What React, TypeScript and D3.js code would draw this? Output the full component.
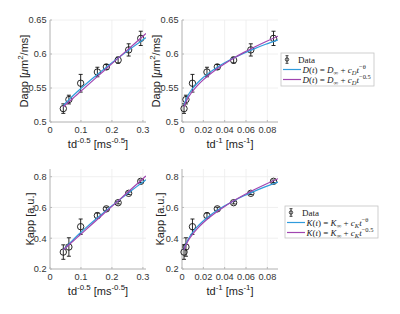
import React from "react";
import * as d3 from "d3";

// ---- data ----
const sInv = [0.043, 0.061, 0.099, 0.153, 0.182, 0.22, 0.254, 0.293]; // td^-0.5
const tdInv = [0.0019, 0.0037, 0.0098, 0.0234, 0.0331, 0.0484, 0.0645, 0.0858]; // td^-1
const dapp = [0.5197, 0.533, 0.557, 0.5735, 0.581, 0.591, 0.606, 0.623];
const dappErr = [0.007, 0.0064, 0.013, 0.007, 0.0035, 0.0045, 0.009, 0.0105];
const kapp = [0.31, 0.343, 0.475, 0.547, 0.591, 0.631, 0.692, 0.77];
const kappErr = [0.047, 0.06, 0.05, 0.017, 0.01, 0.008, 0.008, 0.008];

// fitted curves, sampled
const fitS = [0.043, 0.047, 0.052, 0.058, 0.065, 0.075, 0.087, 0.1, 0.12, 0.14, 0.16, 0.18, 0.2, 0.22, 0.24, 0.26, 0.28, 0.3, 0.31];
const fitTdInv = [0.00185, 0.00221, 0.0027, 0.00336, 0.00423, 0.00563, 0.00757, 0.01, 0.0144, 0.0196, 0.0256, 0.0324, 0.04, 0.0484, 0.0576, 0.0676, 0.0784, 0.09, 0.0961];
const dFitFree = [0.5245, 0.5264, 0.5287, 0.5315, 0.5346, 0.539, 0.5441, 0.5494, 0.5574, 0.5651, 0.5726, 0.5799, 0.587, 0.594, 0.6009, 0.6076, 0.6143, 0.6208, 0.6241];
const dFitHalf = [0.5224, 0.524, 0.526, 0.5284, 0.5313, 0.5353, 0.5401, 0.5454, 0.5535, 0.5616, 0.5696, 0.5777, 0.5858, 0.5939, 0.602, 0.61, 0.6181, 0.6262, 0.6302];
const kFitFree = [0.325, 0.3337, 0.3443, 0.3569, 0.3712, 0.3911, 0.4144, 0.4388, 0.4752, 0.5103, 0.5445, 0.5779, 0.6107, 0.6425, 0.674, 0.7048, 0.7353, 0.7652, 0.78];
const kFitHalf = [0.3244, 0.3316, 0.3406, 0.3514, 0.364, 0.382, 0.4036, 0.427, 0.463, 0.499, 0.535, 0.571, 0.607, 0.643, 0.679, 0.715, 0.751, 0.787, 0.805];

const xTicksS = [0, 0.1, 0.2, 0.3];
const xTicksT = [0, 0.02, 0.04, 0.06, 0.08];
const yTicksD = [0.5, 0.55, 0.6, 0.65];
const yTicksK = [0.2, 0.4, 0.6, 0.8];

const BLUE = "#2f9bdc";
const PURPLE = "#a045b0";
const SANS = "'Liberation Sans', Arial, Helvetica, sans-serif";
const SERIF = "'Liberation Serif', 'DejaVu Serif', serif";

type Part = { t: string; i?: boolean; sub?: boolean; sup?: boolean };

function MathText({ x, y, parts, size, family, anchor, transform, fill }: any) {
  let cur = 0;
  return (
    <text x={x} y={y} fontSize={size} fontFamily={family} textAnchor={anchor || "start"} transform={transform} fill={fill || "#222"}>
      {parts.map((p: Part, k: number) => {
        const target = p.sub ? size * 0.3 : p.sup ? -size * 0.42 : 0;
        const dy = target - cur;
        cur = target;
        return (
          <tspan key={k} dy={dy} fontStyle={p.i ? "italic" : "normal"} fontSize={p.sub || p.sup ? size * 0.72 : size}>
            {p.t}
          </tspan>
        );
      })}
    </text>
  );
}

type PanelProps = {
  id: string;
  left: number; right: number; top: number; bottom: number;
  xDomain: [number, number]; yDomain: [number, number];
  xTicks: number[]; yTicks: number[];
  xs: number[]; ys: number[]; errs: number[];
  fitX: number[]; fitA: number[]; fitB: number[];
  xLabel: Part[]; yLabel: Part[]; yLabelX: number;
};

function Panel(p: PanelProps) {
  const x = d3.scaleLinear().domain(p.xDomain).range([p.left, p.right]);
  const y = d3.scaleLinear().domain(p.yDomain).range([p.bottom, p.top]);
  const fmt = (v: number) => (v === 0 ? "0" : String(+v.toFixed(3)));
  const lineA = d3.line<number>().x((_, i) => x(p.fitX[i])).y((v) => y(v)).curve(d3.curveMonotoneX);
  const cy = (p.top + p.bottom) / 2;
  return (
    <g>
      <defs>
        <clipPath id={p.id}>
          <rect x={p.left} y={p.top} width={p.right - p.left} height={p.bottom - p.top} />
        </clipPath>
      </defs>
      {p.xTicks.map((t) => (
        <line key={"gx" + t} x1={x(t)} x2={x(t)} y1={p.top} y2={p.bottom} stroke="#ececec" strokeWidth={0.8} />
      ))}
      {p.yTicks.map((t) => (
        <line key={"gy" + t} x1={p.left} x2={p.right} y1={y(t)} y2={y(t)} stroke="#ececec" strokeWidth={0.8} />
      ))}
      <line x1={p.left} x2={p.left} y1={p.top} y2={p.bottom} stroke="#b8b8b8" strokeWidth={1} />
      <line x1={p.left} x2={p.right} y1={p.bottom} y2={p.bottom} stroke="#b8b8b8" strokeWidth={1} />
      {p.xTicks.map((t) => (
        <g key={"tx" + t}>
          <line x1={x(t)} x2={x(t)} y1={p.bottom} y2={p.bottom - 2} stroke="#b8b8b8" />
          <text x={x(t)} y={p.bottom + 10.5} fontSize={9.2} fontFamily={SANS} fill="#333" textAnchor="middle">{fmt(t)}</text>
        </g>
      ))}
      {p.yTicks.map((t) => (
        <g key={"ty" + t}>
          <line x1={p.left} x2={p.left + 2} y1={y(t)} y2={y(t)} stroke="#b8b8b8" />
          <text x={p.left - 3.5} y={y(t) + 3.3} fontSize={9.2} fontFamily={SANS} fill="#333" textAnchor="end">{fmt(t)}</text>
        </g>
      ))}
      {p.xs.map((xv, i) => {
        const px = x(xv);
        const y1 = y(p.ys[i] - p.errs[i]);
        const y2 = y(p.ys[i] + p.errs[i]);
        return (
          <g key={"d" + i} stroke="#111" strokeWidth={0.9} fill="none">
            <line x1={px} x2={px} y1={y1} y2={y2} />
            <line x1={px - 2} x2={px + 2} y1={y1} y2={y1} />
            <line x1={px - 2} x2={px + 2} y1={y2} y2={y2} />
            <circle cx={px} cy={y(p.ys[i])} r={3.2} />
          </g>
        );
      })}
      <g clipPath={`url(#${p.id})`} fill="none">
        <path d={lineA(p.fitA) || ""} stroke={BLUE} strokeWidth={1.2} />
        <path d={lineA(p.fitB) || ""} stroke={PURPLE} strokeWidth={1.2} />
      </g>
      <MathText x={(p.left + p.right) / 2} y={p.bottom + 26} parts={p.xLabel} size={11} family={SANS} anchor="middle" />
      <MathText x={0} y={0} parts={p.yLabel} size={11} family={SANS} anchor="middle" transform={`translate(${p.yLabelX},${cy}) rotate(-90)`} />
    </g>
  );
}

function Legend({ x0, y0, w, h, rows, letter, sub }: any) {
  const lx = x0 + 2;
  const tx = x0 + 21.5;
  const r0 = y0 + 6.5, r1 = y0 + 16.5, r2 = y0 + 26.5;
  const eq = (tail: Part[]): Part[] => [
    { t: letter, i: true }, { t: "(" }, { t: "t", i: true }, { t: ") = " },
    { t: letter, i: true }, { t: "∞", sub: true }, { t: " + " }, { t: "c", i: true }, { t: sub, i: true, sub: true },
    { t: "t", i: true }, ...tail,
  ];
  return (
    <g>
      <rect x={x0} y={y0} width={w} height={h} fill="#fff" stroke="#c4c4c4" strokeWidth={0.8} />
      <g stroke="#111" strokeWidth={0.8} fill="none">
        <line x1={x0 + 6} x2={x0 + 6} y1={r0 - 3.8} y2={r0 + 3.8} />
        <line x1={x0 + 4.5} x2={x0 + 7.5} y1={r0 - 3.8} y2={r0 - 3.8} />
        <line x1={x0 + 4.5} x2={x0 + 7.5} y1={r0 + 3.8} y2={r0 + 3.8} />
        <circle cx={x0 + 6} cy={r0} r={1.7} />
      </g>
      <text x={x0 + 17} y={r0 + 3} fontSize={9} fontFamily={SERIF} fill="#222">{rows[0]}</text>
      <line x1={lx} x2={lx + 18} y1={r1} y2={r1} stroke={BLUE} strokeWidth={1.2} />
      <MathText x={tx} y={r1 + 3} size={9} family={SERIF} parts={eq([{ t: "−θ", sup: true }])} />
      <line x1={lx} x2={lx + 18} y1={r2} y2={r2} stroke={PURPLE} strokeWidth={1.2} />
      <MathText x={tx} y={r2 + 3} size={9} family={SERIF} parts={eq([{ t: "−0.5", sup: true }])} />
    </g>
  );
}

const xLabS: Part[] = [{ t: "td" }, { t: "-0.5", sup: true }, { t: " [ms" }, { t: "-0.5", sup: true }, { t: "]" }];
const xLabT: Part[] = [{ t: "td" }, { t: "-1", sup: true }, { t: " [ms" }, { t: "-1", sup: true }, { t: "]" }];
const yLabD: Part[] = [{ t: "Dapp [" }, { t: "μ", i: true }, { t: "m" }, { t: "2", sup: true }, { t: "/ms]" }];
const yLabK: Part[] = [{ t: "Kapp [a.u.]" }];

export default function App() {
  return (
    <svg width={400} height={314} style={{ position: "absolute", left: 0, top: 0, background: "#fff" }}>
      <Panel id="c1" left={50} right={146} top={20} bottom={122} xDomain={[0, 0.31]} yDomain={[0.5, 0.65]}
        xTicks={xTicksS} yTicks={yTicksD} xs={sInv} ys={dapp} errs={dappErr}
        fitX={fitS} fitA={dFitFree} fitB={dFitHalf} xLabel={xLabS} yLabel={yLabD} yLabelX={28} />
      <Panel id="c2" left={182} right={278} top={20} bottom={122} xDomain={[0, 0.09]} yDomain={[0.5, 0.65]}
        xTicks={xTicksT} yTicks={yTicksD} xs={tdInv} ys={dapp} errs={dappErr}
        fitX={fitTdInv} fitA={dFitFree} fitB={dFitHalf} xLabel={xLabT} yLabel={yLabD} yLabelX={160} />
      <Panel id="c3" left={50} right={146} top={169} bottom={269} xDomain={[0, 0.31]} yDomain={[0.2, 0.85]}
        xTicks={xTicksS} yTicks={yTicksK} xs={sInv} ys={kapp} errs={kappErr}
        fitX={fitS} fitA={kFitFree} fitB={kFitHalf} xLabel={xLabS} yLabel={yLabK} yLabelX={34} />
      <Panel id="c4" left={182} right={278} top={169} bottom={269} xDomain={[0, 0.09]} yDomain={[0.2, 0.85]}
        xTicks={xTicksT} yTicks={yTicksK} xs={tdInv} ys={kapp} errs={kappErr}
        fitX={fitTdInv} fitA={kFitFree} fitB={kFitHalf} xLabel={xLabT} yLabel={yLabK} yLabelX={164} />
      <Legend x0={281} y0={53} w={93} h={33} rows={["Data"]} letter="D" sub="D" />
      <Legend x0={285} y0={206} w={93} h={32} rows={["Data"]} letter="K" sub="K" />
    </svg>
  );
}
